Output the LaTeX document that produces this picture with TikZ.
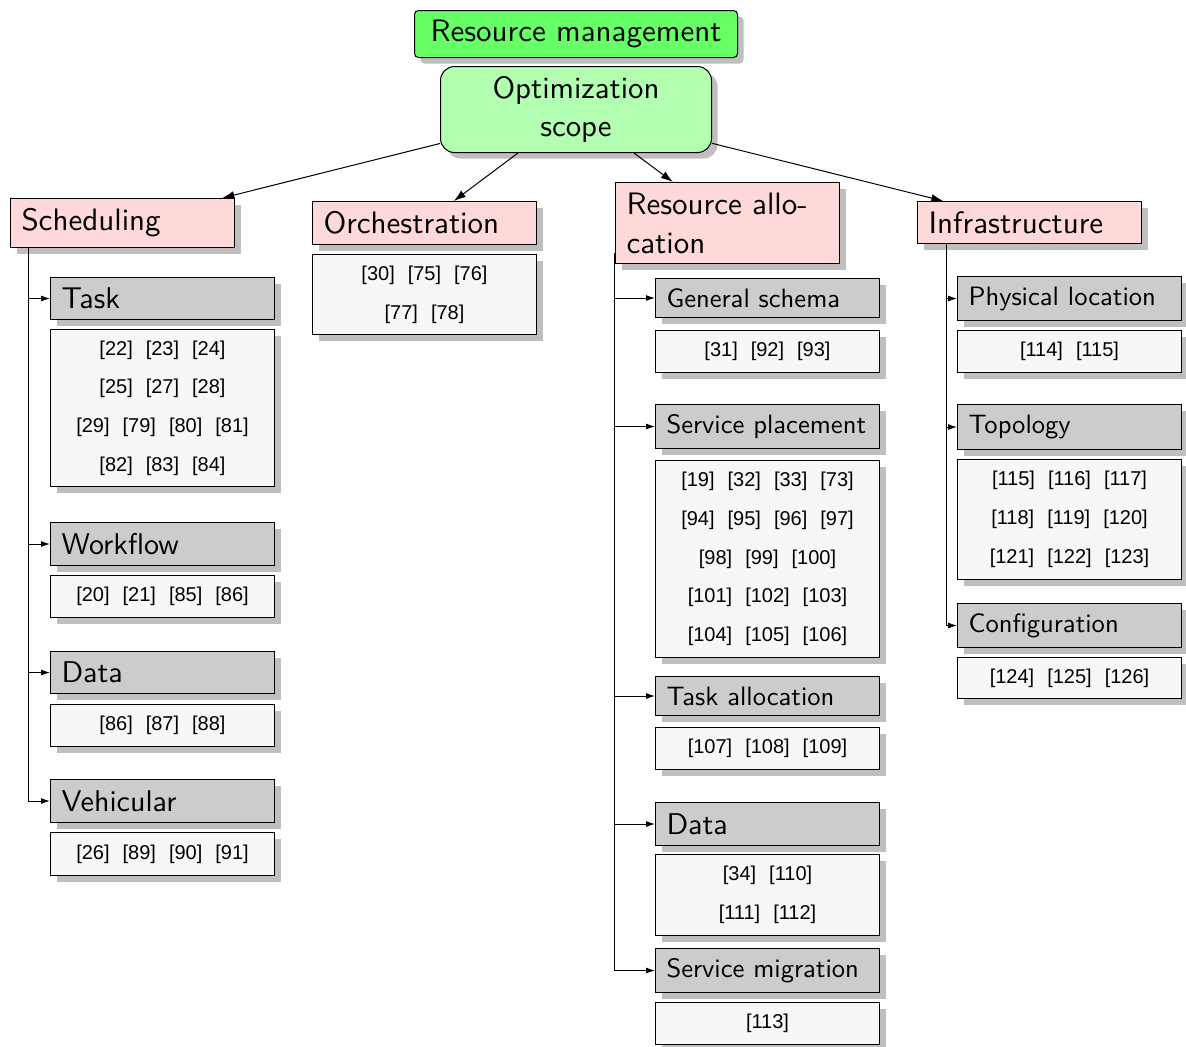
\documentclass[tikz,border=0pt]{standalone}
\usepackage{fontspec}
\setsansfont{lmsans10-regular.otf}
\newfontfamily\citefont{Liberation Sans}
\usetikzlibrary{shadows,arrows.meta}
\newcommand{\cgap}{\hspace{6.5pt}}
\tikzset{
  base/.style={draw, line width=0.5pt, anchor=north west, inner ysep=0pt,
    drop shadow={shadow xshift=3pt, shadow yshift=-3pt, fill=black!25, opacity=1}},
  headbox/.style={base, fill=red!15, text width=101pt, inner xsep=5.5pt, align=left,
    font=\sffamily\fontsize{15.5}{19.5}\selectfont},
  subbox/.style={base, fill=black!20, text width=101pt, inner xsep=5.5pt, align=left,
    font=\sffamily\fontsize{13.3}{16}\selectfont},
  bigsub/.style={subbox, font=\sffamily\fontsize{15}{18}\selectfont},
  citebox/.style={base, fill=black!3, text width=101pt, inner xsep=5.5pt, align=center,
    font=\citefont\fontsize{10}{19.35}\selectfont},
  mainarrow/.style={line width=0.5pt, -{Latex[length=6pt,width=4pt]}},
  treearrow/.style={line width=0.5pt, -{Latex[length=4.5pt,width=3pt]}}
}
\begin{document}
\begin{tikzpicture}[x=0.5pt,y=-0.5pt]
\useasboundingbox (0,0) rectangle (1186,1046);

% top
\node[base, fill=green!60, rounded corners=2pt, minimum width=161.5pt, minimum height=23.5pt,
  inner xsep=0pt, font=\sffamily\fontsize{15.5}{18}\selectfont] (rm) at (414,10) {Resource management};
\node[base, fill=green!30, rounded corners=7pt, minimum width=135.5pt, minimum height=43pt,
  inner xsep=0pt, align=center, font=\sffamily\fontsize{15.4}{19}\selectfont] (opt) at (440,66) {Optimization\\scope};

% headers
\node[headbox, minimum height=24.5pt] (sched) at (10,198) {Scheduling};
\node[headbox, minimum height=21.5pt] (orch) at (312,201) {Orchestration};
\node[headbox, minimum height=40.5pt] (ra) at (615,182) {Resource allo-\\cation};
\node[headbox, minimum height=21pt] (infra) at (917,201) {Infrastructure};

\draw[mainarrow] (opt) -- (sched);
\draw[mainarrow] (opt) -- (orch);
\draw[mainarrow] (opt) -- (ra);
\draw[mainarrow] (opt) -- (infra);

% Scheduling
\node[bigsub, minimum height=21pt] (task) at (50,277) {Task};
\node[citebox, minimum height=78.5pt] (taskc) at (50,329) {[22]\cgap[23]\cgap[24]\\{}[25]\cgap[27]\cgap[28]\\{}[29]\cgap[79]\cgap[80]\cgap[81]\\{}[82]\cgap[83]\cgap[84]};
\node[bigsub, minimum height=21.5pt] (wf) at (50,522) {Workflow};
\node[citebox, minimum height=21pt] (wfc) at (50,575) {[20]\cgap[21]\cgap[85]\cgap[86]};
\node[bigsub, minimum height=21pt] (sdata) at (50,651) {Data};
\node[citebox, minimum height=21pt] (sdatac) at (50,704) {[86]\cgap[87]\cgap[88]};
\node[bigsub, minimum height=21.5pt] (veh) at (50,779) {Vehicular};
\node[citebox, minimum height=21.5pt] (vehc) at (50,832) {[26]\cgap[89]\cgap[90]\cgap[91]};

\draw[treearrow] ([xshift=9pt]sched.south west) |- (task.west);
\draw[treearrow] ([xshift=9pt]sched.south west) |- (wf.west);
\draw[treearrow] ([xshift=9pt]sched.south west) |- (sdata.west);
\draw[treearrow] ([xshift=9pt]sched.south west) |- (veh.west);

% Orchestration
\node[citebox, minimum height=40pt] (orchc) at (312,254) {[30]\cgap[75]\cgap[76]\\{}[77]\cgap[78]};

% Resource allocation
\node[subbox, minimum height=19.5pt] (gs) at (655,278) {General schema};
\node[citebox, minimum height=21pt] (gsc) at (655,330) {[31]\cgap[92]\cgap[93]};
\node[subbox, minimum height=22pt] (sp) at (655,404) {Service placement};
\node[citebox, minimum height=98.5pt] (spc) at (655,460) {[19]\cgap[32]\cgap[33]\cgap[73]\\{}[94]\cgap[95]\cgap[96]\cgap[97]\\{}[98]\cgap[99]\cgap[100]\\{}[101]\cgap[102]\cgap[103]\\{}[104]\cgap[105]\cgap[106]};
\node[subbox, minimum height=19.5pt] (ta) at (655,676) {Task allocation};
\node[citebox, minimum height=21pt] (tac) at (655,727) {[107]\cgap[108]\cgap[109]};
\node[bigsub, minimum height=21.5pt] (rdata) at (655,802) {Data};
\node[citebox, minimum height=40.5pt] (rdatac) at (655,854) {[34]\cgap[110]\\{}[111]\cgap[112]};
\node[subbox, minimum height=22pt] (sm) at (655,948) {Service migration};
\node[citebox, minimum height=21pt] (smc) at (655,1002) {[113]};

\draw[treearrow] ([xshift=-0.5pt,yshift=5.5pt]ra.south west) |- (gs.west);
\draw[treearrow] ([xshift=-0.5pt,yshift=5.5pt]ra.south west) |- (sp.west);
\draw[treearrow] ([xshift=-0.5pt,yshift=5.5pt]ra.south west) |- (ta.west);
\draw[treearrow] ([xshift=-0.5pt,yshift=5.5pt]ra.south west) |- (rdata.west);
\draw[treearrow] ([xshift=-0.5pt,yshift=5.5pt]ra.south west) |- (sm.west);

% Infrastructure
\node[subbox, minimum height=22pt] (pl) at (957,276) {Physical location};
\node[citebox, minimum height=21pt] (plc) at (957,330) {[114]\cgap[115]};
\node[subbox, minimum height=22.5pt] (topo) at (957,404) {Topology};
\node[citebox, minimum height=60pt] (topoc) at (957,459) {[115]\cgap[116]\cgap[117]\\{}[118]\cgap[119]\cgap[120]\\{}[121]\cgap[122]\cgap[123]};
\node[subbox, minimum height=22pt] (conf) at (957,603) {Configuration};
\node[citebox, minimum height=20.5pt] (confc) at (957,657) {[124]\cgap[125]\cgap[126]};

\draw[treearrow] ([xshift=14.5pt]infra.south west) |- (pl.west);
\draw[treearrow] ([xshift=14.5pt]infra.south west) |- (topo.west);
\draw[treearrow] ([xshift=14.5pt]infra.south west) |- (conf.west);
\end{tikzpicture}
\end{document}
